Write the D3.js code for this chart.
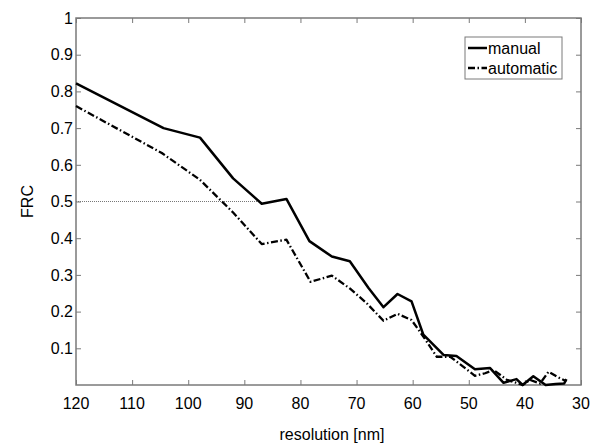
<!DOCTYPE html>
<html>
<head>
<meta charset="utf-8">
<script src="https://cdn.jsdelivr.net/npm/d3@7"></script>
<style>
  html, body { margin: 0; padding: 0; background: #fff; }
  svg { display: block; }
  text { font-family: "Liberation Sans", Arial, Helvetica, sans-serif; fill: #000; }
</style>
</head>
<body>
<svg id="chart" width="602" height="446"></svg>
<script>
// ---- data ----
const manualRes = [120, 104.4, 97.9, 92.0, 86.9, 82.5, 78.4, 74.4, 71.2, 67.9, 65.2, 62.7, 60.2, 58.1, 54.5, 52.2, 48.9, 46.2, 43.8, 41.5, 40.4, 38.5, 36.3, 34.5, 33.0, 32.6];
const manualFRC = [0.822, 0.700, 0.674, 0.563, 0.494, 0.507, 0.392, 0.350, 0.337, 0.265, 0.212, 0.248, 0.228, 0.137, 0.082, 0.079, 0.043, 0.046, 0.006, 0.016, 0.000, 0.024, 0.000, 0.003, 0.004, 0.016];

const autoRes = [120, 104.7, 97.9, 92.0, 86.9, 82.5, 78.2, 74.4, 71.2, 68.2, 65.2, 62.7, 60.2, 58.1, 55.7, 53.3, 51.0, 48.9, 47.1, 45.6, 43.2, 41.5, 40.4, 39.1, 37.3, 35.8, 34.2, 32.6];
const autoFRC = [0.760, 0.632, 0.559, 0.470, 0.384, 0.396, 0.281, 0.298, 0.263, 0.223, 0.175, 0.194, 0.177, 0.132, 0.077, 0.077, 0.050, 0.025, 0.032, 0.041, 0.014, 0.006, 0.000, 0.014, 0.004, 0.036, 0.022, 0.010];

const thresholdValue = 0.5;
const thresholdRange = [120, 87.3];

const xTicks = [120, 110, 100, 90, 80, 70, 60, 50, 40, 30];
const yTicks = [0.1, 0.2, 0.3, 0.4, 0.5, 0.6, 0.7, 0.8, 0.9, 1];
const seriesNames = ["manual", "automatic"];
const xLabel = "resolution [nm]";
const yLabel = "FRC";

// ---- layout ----
const L = 76, R = 581, T = 18, B = 385;
const svg = d3.select("#chart");
const x = d3.scaleLinear().domain([120, 30]).range([L, R]);
const y = d3.scaleLinear().domain([0, 1]).range([B, T]);
const axisColor = "#7a7a7a";
const font = 16;

// axes with inward ticks
const gB = svg.append("g").attr("transform", `translate(0,${B})`)
  .call(d3.axisBottom(x).tickValues(xTicks).tickSizeInner(-5).tickSizeOuter(0).tickPadding(0).tickFormat(""));
const gT = svg.append("g").attr("transform", `translate(0,${T})`)
  .call(d3.axisTop(x).tickValues(xTicks).tickSizeInner(-5).tickSizeOuter(0).tickFormat(""));
const gLft = svg.append("g").attr("transform", `translate(${L},0)`)
  .call(d3.axisLeft(y).tickValues(yTicks).tickSizeInner(-5).tickSizeOuter(0).tickFormat(""));
const gRt = svg.append("g").attr("transform", `translate(${R},0)`)
  .call(d3.axisRight(y).tickValues(yTicks).tickSizeInner(-5).tickSizeOuter(0).tickFormat(""));
[gB, gT, gLft, gRt].forEach(g => {
  g.select(".domain").remove();
  g.selectAll(".tick line").attr("stroke", axisColor).attr("stroke-width", 1);
});

// box
svg.append("rect").attr("x", L).attr("y", T).attr("width", R - L).attr("height", B - T)
  .attr("fill", "none").attr("stroke", axisColor).attr("stroke-width", 1.5);

// tick labels
svg.append("g").selectAll("text").data(xTicks).join("text")
  .attr("x", d => x(d)).attr("y", 409).attr("text-anchor", "middle")
  .attr("font-size", font).text(d => d);
svg.append("g").selectAll("text").data(yTicks).join("text")
  .attr("x", 73).attr("y", d => y(d)).attr("dy", "0.36em").attr("text-anchor", "end")
  .attr("font-size", font).text(d => d === 1 ? "1" : d3.format(".1f")(d));

// axis titles
svg.append("text").attr("x", 332).attr("y", 440).attr("text-anchor", "middle")
  .attr("font-size", font).text(xLabel);
svg.append("text").attr("transform", `translate(33,${(T + B) / 2}) rotate(-90)`)
  .attr("text-anchor", "middle").attr("font-size", font).text(yLabel);

// threshold dotted line
svg.append("line")
  .attr("x1", x(thresholdRange[0])).attr("x2", x(thresholdRange[1]))
  .attr("y1", y(thresholdValue)).attr("y2", y(thresholdValue))
  .attr("stroke", "#777").attr("stroke-width", 1).attr("stroke-dasharray", "1,1");

// lines
const line = d3.line().x(d => x(d[0])).y(d => y(d[1]));
const manualData = manualRes.map((r, i) => [r, manualFRC[i]]);
const autoData = autoRes.map((r, i) => [r, autoFRC[i]]);
const dashDot = "7,2.5,1.5,2.5";

svg.append("path").datum(autoData).attr("d", line)
  .attr("fill", "none").attr("stroke", "#000").attr("stroke-width", 2.3)
  .attr("stroke-dasharray", dashDot).attr("stroke-linejoin", "round");
svg.append("path").datum(manualData).attr("d", line)
  .attr("fill", "none").attr("stroke", "#000").attr("stroke-width", 2.5)
  .attr("stroke-linejoin", "round");

// legend
const lg = svg.append("g");
lg.append("rect").attr("x", 465).attr("y", 37).attr("width", 97).attr("height", 42)
  .attr("fill", "#fff").attr("stroke", axisColor).attr("stroke-width", 1);
const styles = [null, dashDot];
seriesNames.forEach((name, i) => {
  const yy = 48 + i * 20;
  lg.append("line").attr("x1", 468).attr("x2", 487).attr("y1", yy).attr("y2", yy)
    .attr("stroke", "#000").attr("stroke-width", i === 0 ? 2.5 : 2.3)
    .attr("stroke-dasharray", styles[i]);
  lg.append("text").attr("x", 488).attr("y", yy + 6).attr("font-size", font).text(name);
});
</script>
</body>
</html>
